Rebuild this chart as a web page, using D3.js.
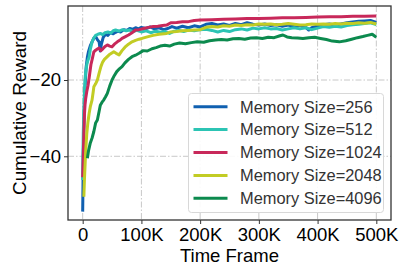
<!DOCTYPE html>
<html>
<head>
<meta charset="utf-8">
<script src="https://cdn.jsdelivr.net/npm/d3@7"></script>
<style>
  body { margin: 0; background: #fff; }
  svg { font-family: "Liberation Sans", Arial, sans-serif; }
</style>
</head>
<body>
<div id="chart"></div>
<script>
// time frame in thousands, cumulative reward
var mem256 = [[0,-54.5],[0.5,-48],[1,-40],[2,-32],[3,-26],[4,-22],[5,-19],[6,-16.5],[8,-14],[10,-12.5],[13,-11],[16,-10],[19,-9],[22,-8.6],[25,-9.4],[28,-10],[30,-12.4],[32,-10.5],[35,-8.8],[39,-8.0],[43,-8.3],[47,-7.6],[52,-7.9],[56,-7.5],[60,-7.2],[65,-7.4],[70,-6.8],[75,-7.0],[80,-6.5],[85,-6.7],[90,-6.3],[95,-6.6],[100,-6.2],[108,-6.5],[115,-6.1],[122,-6.6],[130,-6.3],[138,-6.8],[145,-6.5],[152,-6.0],[160,-6.4],[170,-5.9],[180,-6.3],[190,-5.8],[200,-6.1],[210,-5.4],[220,-5.2],[230,-5.6],[240,-5.3],[250,-5.7],[260,-5.2],[270,-5.5],[280,-5.0],[290,-5.4],[300,-5.6],[310,-5.3],[320,-5.7],[330,-5.5],[340,-5.9],[350,-5.6],[360,-6.0],[370,-5.7],[380,-6.2],[385,-6.9],[390,-6.3],[400,-5.8],[410,-5.5],[420,-5.3],[430,-5.6],[440,-5.3],[450,-5.0],[460,-4.8],[470,-4.6],[480,-4.5],[490,-4.4],[500,-4.9]];
var mem512 = [[0,-46.2],[0.5,-40],[1,-34],[2,-28],[3,-23],[4,-20],[5,-18],[7,-16],[9,-14.8],[11,-14],[13,-12],[16,-10],[19,-9],[22,-8.3],[26,-8.0],[30,-7.8],[34,-8.1],[38,-7.6],[43,-7.4],[48,-7.7],[52,-7.1],[56,-6.9],[62,-7.2],[68,-6.8],[74,-7.1],[80,-6.9],[86,-7.3],[92,-7.0],[100,-7.4],[108,-7.1],[116,-7.6],[124,-7.2],[132,-7.5],[140,-7.3],[148,-7.8],[156,-7.2],[164,-7.0],[172,-7.3],[180,-6.9],[190,-7.1],[200,-6.8],[210,-6.7],[220,-7.0],[230,-7.4],[240,-7.0],[250,-7.3],[260,-6.8],[270,-6.6],[280,-6.9],[290,-6.4],[300,-6.6],[310,-6.3],[320,-6.6],[330,-6.5],[340,-6.9],[350,-6.6],[360,-6.3],[370,-6.6],[380,-6.3],[390,-6.8],[400,-6.4],[410,-6.0],[420,-6.2],[430,-5.9],[440,-6.1],[450,-5.7],[460,-5.5],[470,-5.4],[480,-5.2],[490,-5.0],[500,-5.5]];
var mem1024 = [[0,-45.5],[1,-40],[2,-34],[3,-29],[4,-26.5],[5,-25],[7,-23],[9,-21.5],[11,-19.5],[14,-16],[17,-14],[19,-12.6],[22,-12.2],[25,-11.9],[28,-11.6],[31,-12.3],[34,-11.9],[38,-11.2],[42,-10.8],[46,-11.1],[50,-11.3],[54,-10.6],[59,-10.0],[63,-9.6],[67,-9.1],[72,-8.7],[78,-8.2],[84,-7.6],[90,-6.9],[96,-6.8],[104,-6.5],[112,-6.2],[120,-6.0],[128,-5.9],[136,-5.7],[143,-5.6],[150,-5.0],[160,-4.9],[170,-4.7],[180,-4.7],[190,-4.4],[200,-4.3],[220,-4.2],[240,-4.1],[260,-4.0],[280,-3.9],[300,-3.9],[320,-3.8],[340,-3.7],[360,-3.7],[380,-3.6],[400,-3.5],[420,-3.4],[440,-3.4],[460,-3.3],[480,-3.3],[500,-3.2]];
var mem2048 = [[2,-50.6],[3,-46],[5,-39],[7,-34],[9,-31],[11,-28.7],[13,-27],[16,-25.2],[18,-23],[19,-21.8],[22,-21],[25,-20],[28,-18.2],[31,-16.5],[34,-15.3],[37,-14.6],[41,-14],[45,-13.4],[49,-13.0],[53,-12.6],[57,-13.0],[62,-13.4],[67,-12.3],[72,-11.4],[78,-10.6],[84,-10.0],[90,-9.6],[96,-9.3],[101,-9.1],[110,-8.7],[120,-8.3],[130,-8.0],[143,-7.8],[150,-7.4],[160,-7.3],[170,-7.1],[180,-7.0],[190,-6.9],[200,-6.8],[210,-6.2],[220,-6.0],[230,-6.1],[240,-5.8],[250,-5.9],[260,-5.6],[270,-5.7],[280,-5.5],[290,-5.6],[300,-5.3],[310,-5.4],[320,-5.3],[330,-5.5],[340,-5.4],[350,-5.2],[360,-5.4],[370,-5.6],[380,-5.5],[390,-5.3],[400,-5.4],[410,-5.3],[420,-5.4],[430,-5.2],[440,-5.3],[450,-5.1],[460,-5.2],[470,-5.0],[480,-5.1],[490,-4.9],[500,-5.3]];
var mem4096 = [[8,-40.5],[10,-38.5],[13,-36.5],[16,-35.2],[19,-33.5],[22,-31.3],[25,-30.5],[28,-28.2],[30,-26.6],[33,-25.8],[36,-25.2],[39,-24.4],[42,-23.5],[46,-21.6],[50,-20],[54,-18.8],[58,-17.8],[63,-17],[67,-16.5],[72,-15.5],[78,-14.6],[84,-13.9],[90,-13.5],[96,-13.0],[103,-12.3],[110,-12.4],[118,-11.8],[125,-11.5],[132,-11.1],[140,-10.9],[148,-11.1],[156,-10.6],[165,-10.3],[175,-10.5],[185,-10.2],[195,-10.0],[206,-10.1],[216,-9.7],[226,-9.5],[236,-9.4],[246,-9.5],[256,-9.2],[266,-9.1],[276,-9.3],[286,-9.0],[296,-8.9],[306,-9.1],[316,-8.8],[326,-8.9],[336,-8.4],[341,-8.2],[348,-8.7],[356,-8.9],[366,-9.0],[375,-9.1],[385,-8.9],[395,-8.8],[405,-9.1],[415,-9.4],[425,-9.8],[437,-10.0],[448,-9.7],[458,-9.3],[468,-8.9],[477,-8.6],[485,-8.3],[493,-8.0],[500,-8.8]];

var seriesNames = ["Memory Size=256", "Memory Size=512", "Memory Size=1024", "Memory Size=2048", "Memory Size=4096"];
var seriesData = [mem256, mem512, mem1024, mem2048, mem4096];
var colors = ["#1060b0", "#2cc4b4", "#c8285a", "#c2cc24", "#0c8a4e"];
var xTicks = [0, 100, 200, 300, 400, 500];
var xTickLabels = ["0", "100K", "200K", "300K", "400K", "500K"];
var yTicks = [-40, -20];

var svgWidth = 406;
var svgHeight = 274;
var margin = { top: 6, right: 15, bottom: 54, left: 68 };
var width = svgWidth - margin.left - margin.right;
var height = svgHeight - margin.top - margin.bottom;

var svg = d3.select("#chart")
    .append("svg")
    .attr("width", svgWidth)
    .attr("height", svgHeight);

var chartGroup = svg.append("g")
    .attr("transform", `translate(${margin.left}, ${margin.top})`);

var xScale = d3.scaleLinear().domain([-25, 525]).range([0, width]);
var yScale = d3.scaleLinear().domain([-56.7, -0.6]).range([height, 0]);

// grid
chartGroup.append("g").selectAll("line.xg")
    .data(xTicks).enter().append("line")
    .attr("x1", d => xScale(d)).attr("x2", d => xScale(d))
    .attr("y1", 0).attr("y2", height)
    .attr("stroke", "#c8c8c8").attr("stroke-width", 1)
    .attr("stroke-dasharray", "6,2,1.5,2");
chartGroup.append("g").selectAll("line.yg")
    .data(yTicks).enter().append("line")
    .attr("y1", d => yScale(d)).attr("y2", d => yScale(d))
    .attr("x1", 0).attr("x2", width)
    .attr("stroke", "#c8c8c8").attr("stroke-width", 1)
    .attr("stroke-dasharray", "6,2,1.5,2");

// lines
var line = d3.line().x(d => xScale(d[0])).y(d => yScale(d[1]));
var clip = chartGroup.append("clipPath").attr("id", "clip")
    .append("rect").attr("width", width).attr("height", height);
seriesData.forEach((s, i) => {
    chartGroup.append("path")
        .datum(s)
        .attr("clip-path", "url(#clip)")
        .attr("fill", "none")
        .attr("stroke", colors[i])
        .attr("stroke-width", 3)
        .attr("stroke-linejoin", "round")
        .attr("d", line);
});

// axes
var xAxis = d3.axisBottom(xScale).tickValues(xTicks)
    .tickFormat((d, i) => xTickLabels[i]).tickSize(4).tickPadding(4);
var yAxis = d3.axisLeft(yScale).tickValues(yTicks)
    .tickFormat(d => "\u2212" + Math.abs(d)).tickSize(4).tickPadding(3);

var gx = chartGroup.append("g")
    .attr("transform", `translate(0, ${height})`)
    .call(xAxis);
var gy = chartGroup.append("g").call(yAxis);
[gx, gy].forEach(g => {
    g.select(".domain").remove();
    g.selectAll("line").attr("stroke", "#333").attr("stroke-width", 1);
    g.selectAll("text").attr("font-size", "18.5px").attr("fill", "#000")
        .attr("font-family", "Liberation Sans, Arial, sans-serif");
});

chartGroup.append("rect")
    .attr("width", width).attr("height", height)
    .attr("fill", "none").attr("stroke", "#333").attr("stroke-width", 1.3);

// axis labels
chartGroup.append("text")
    .attr("x", width / 2).attr("y", height + 42)
    .attr("text-anchor", "middle")
    .attr("font-size", "18.5px")
    .text("Time Frame");

chartGroup.append("text")
    .attr("transform", "rotate(-90)")
    .attr("x", -height / 2).attr("y", -42)
    .attr("text-anchor", "middle")
    .attr("font-size", "18.8px")
    .text("Cumulative Reward");

// legend
var legend = svg.append("g").attr("transform", "translate(188.5, 93.5)");
legend.append("rect")
    .attr("width", 195).attr("height", 119).attr("rx", 3)
    .attr("fill", "#fff").attr("fill-opacity", 0.9)
    .attr("stroke", "#d8d8d8").attr("stroke-width", 1);
seriesNames.forEach((name, i) => {
    var y = 13.2 + i * 22.9;
    legend.append("line")
        .attr("x1", 5).attr("x2", 39).attr("y1", y).attr("y2", y)
        .attr("stroke", colors[i]).attr("stroke-width", 3);
    legend.append("text")
        .attr("x", 51.5).attr("y", y + 5.8)
        .attr("font-size", "16.4px").attr("fill", "#333")
        .text(name);
});
</script>
</body>
</html>
